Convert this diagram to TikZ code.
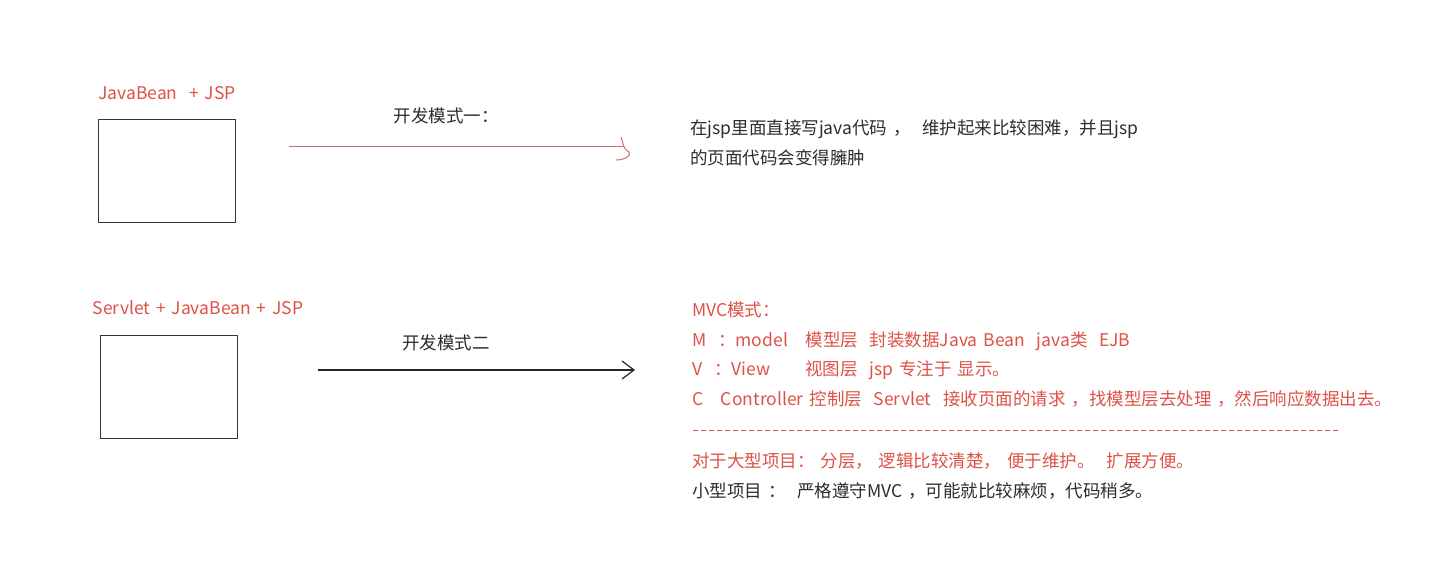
\documentclass[tikz,border=0pt]{standalone}
\usepackage{fontspec}
\setmainfont[WordSpace=1.5]{Noto Sans CJK SC}
\usepackage{tikz}
\usetikzlibrary{arrows.meta}
\definecolor{noteRed}{RGB}{222,82,72}
\definecolor{noteGray}{RGB}{45,45,45}
\definecolor{arrowRed}{RGB}{205,110,110}

\begin{document}
\begin{tikzpicture}[x=1pt,y=-1pt,
    every node/.style={font=\fontsize{17.5}{20}\selectfont, inner sep=0pt},
    pagebox/.style={draw=black!80, line width=1.4pt, minimum width=137pt, minimum height=103pt, anchor=north west},
    redtext/.style={text=noteRed},
    graytext/.style={text=noteGray},
    note/.style={anchor=base west}
]
\useasboundingbox[fill=white] (0,0) rectangle (1429,579);

% mode one
\node[redtext] (labelA) at (167,93) {JavaBean~~+ JSP};
\node[pagebox] (boxA) at (98,119) {};
\coordinate (startA) at (289,146);
\coordinate (endA) at (624,146);
\draw[arrowRed, line width=1pt] (startA) -- (endA);
\draw[arrowRed, line width=1pt] ([shift={(-3,-9)}]endA) .. controls ([shift={(0,-2)}]endA) and ([shift={(-2,2)}]endA) .. ([shift={(5,6)}]endA)
    .. controls ([shift={(8,10)}]endA) and ([shift={(0,14)}]endA) .. ([shift={(-8,14)}]endA);
\node[graytext] (modeA) at (446,116) {开发模式一：};
\node[graytext, note] (textA1) at (690,134) {在jsp里面直接写java代码~，~~维护起来比较困难，并且jsp};
\node[graytext, note] (textA2) at (690,164) {的页面代码会变得臃肿};

% mode two
\node[redtext] (labelB) at (198,308) {Servlet + JavaBean + JSP};
\node[pagebox] (boxB) at (100,335) {};
\coordinate (startB) at (318,370);
\coordinate (endB) at (635,370);
\draw[black!85, line width=1.2pt, -{Straight Barb[length=12pt,width=18pt]}] (startB) -- (endB);
\node[graytext] (modeB) at (446,343) {开发模式二};

% MVC notes
\node[redtext, note] (mvc) at (692,316) {MVC模式：};
\node[redtext, note] (mvcM) at (692,346) {M~~：model~~~模型层~~封装数据Java Bean~~java类~~EJB};
\node[redtext, note] (mvcV) at (692,375) {V~~：View~~~~~~视图层~~jsp 专注于 显示。};
\node[redtext, note] (mvcC) at (692,405) {C~~~Controller 控制层~~Servlet~~接收页面的请求~，找模型层去处理~，然后响应数据出去。};
\coordinate (dashL) at (693,430);
\coordinate (dashR) at (1338,430);
\draw[noteRed, line width=0.9pt, dash pattern=on 5pt off 3pt] (dashL) -- (dashR);
\node[redtext, note] (bigP) at (692,467) {对于大型项目：~分层，~逻辑比较清楚，~便于维护。~~扩展方便。};
\node[graytext, note] (smallP) at (692,497) {小型项目~：~~严格遵守MVC~，可能就比较麻烦，代码稍多。};
\end{tikzpicture}
\end{document}
